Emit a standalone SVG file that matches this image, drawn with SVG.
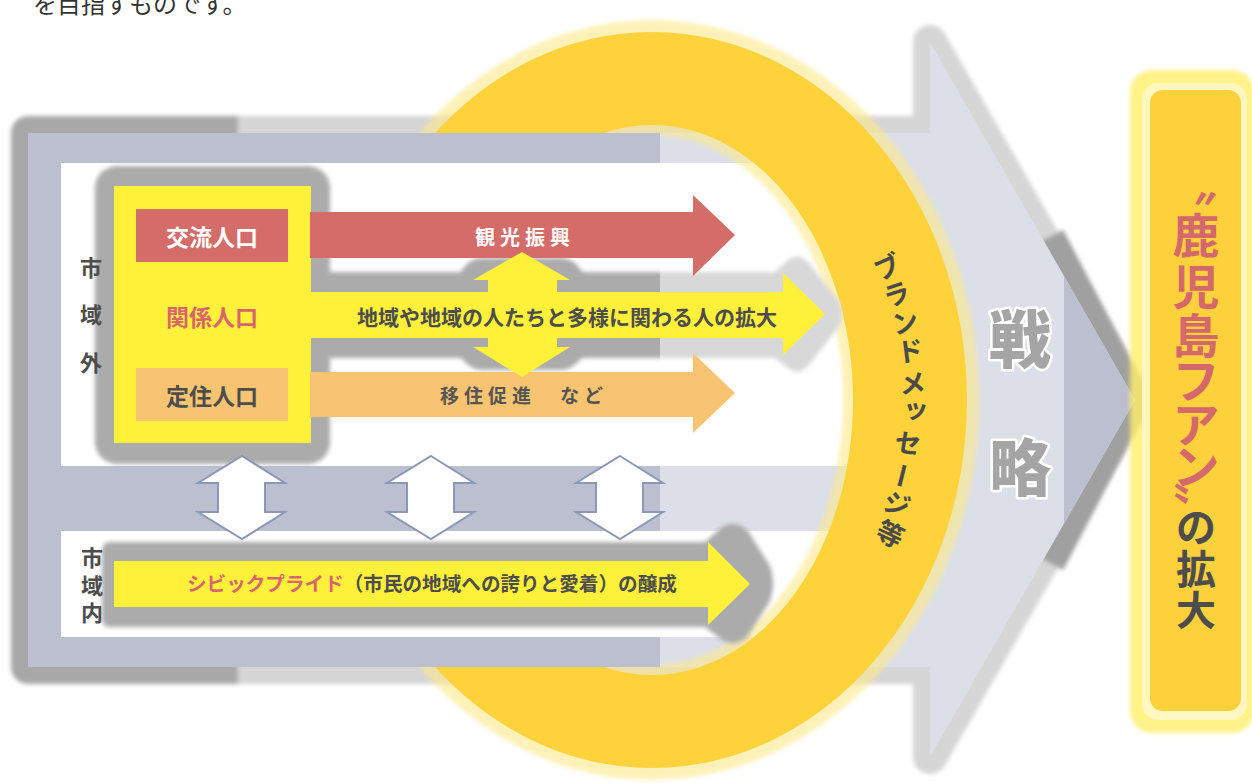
<svg xmlns="http://www.w3.org/2000/svg" width="1252" height="783" viewBox="0 0 1252 783">
<defs>
<style>
.jp{font-family:"Noto Sans CJK JP","Noto Sans CJK SC",sans-serif;}
.b{font-weight:700;}
.dk{fill:#4d4d4d;}
.c{text-anchor:middle;dominant-baseline:central;}
.v{writing-mode:vertical-rl;text-anchor:middle;}
.warrow{fill:#ffffff;stroke:#8c97b8;stroke-width:2;stroke-linejoin:miter;}
.yel{fill:#fff03a;}
</style>
<filter id="bl2" x="-10%" y="-10%" width="120%" height="120%"><feGaussianBlur stdDeviation="2"/></filter>
<clipPath id="cl"><rect x="0" y="0" width="660" height="783"/></clipPath>
<clipPath id="cr"><rect x="660" y="0" width="600" height="783"/></clipPath>
<clipPath id="ctip"><rect x="1064" y="200" width="200" height="400"/></clipPath>
<linearGradient id="sg" gradientUnits="userSpaceOnUse" x1="0" y1="0" x2="1252" y2="0">
<stop offset="0" stop-color="#a8a8a8"/>
<stop offset="0.19" stop-color="#a8a8a8"/>
<stop offset="0.19" stop-color="#d6d6d6"/>
<stop offset="1" stop-color="#d6d6d6"/>
</linearGradient>
<path id="ygl" d="M305,272 H775 L788,260 Q798,252 808,262 L838,300 Q846,314 838,328 L808,366 Q798,376 788,368 L775,358 H305 Z"/>
</defs>

<text class="jp" x="33" y="13" font-size="24" fill="#333333">を目指すものです。</text>

<g id="strategy-arrow">
<path d="M28,133 H930 V42 L1135,400 L930,757 V667 H28 Z" fill="none" stroke="url(#sg)" stroke-width="34" stroke-linejoin="round" filter="url(#bl2)"/>
<path d="M1050,237 L1135,400 L1050,563" fill="none" stroke="#a0a0a0" stroke-width="30" stroke-linejoin="round" filter="url(#bl2)"/>
<path d="M28,133 H930 V42 L1135,400 L930,757 V667 H28 Z" fill="#dcdfe8"/>
<path d="M28,133 H930 V42 L1135,400 L930,757 V667 H28 Z" fill="#bbbfcf" clip-path="url(#ctip)"/>
<rect x="61" y="163" width="799" height="303" fill="#ffffff"/>
<rect x="61" y="531" width="799" height="106" fill="#ffffff"/>
</g>

<g id="brand-ring">
<path d="M325,400 A327,380 0 1,0 979,400 A327,380 0 1,0 325,400 Z M461,400 A191,265 0 1,0 843,400 A191,265 0 1,0 461,400 Z" fill-rule="evenodd" fill="#fde98a" opacity="0.6" filter="url(#bl2)"/>
<path d="M337,400 A315,368 0 1,0 967,400 A315,368 0 1,0 337,400 Z M451,400 A201,275 0 1,0 853,400 A201,275 0 1,0 451,400 Z" fill-rule="evenodd" fill="#fdd23a"/>
</g>

<g id="body-left">
<rect x="28" y="133" width="632" height="534" fill="#bbbfcf"/>
<rect x="61" y="163" width="599" height="303" fill="#ffffff"/>
<rect x="61" y="531" width="599" height="106" fill="#ffffff"/>
</g>

<g id="outside-box">
<rect x="95" y="166" width="235" height="298" rx="22" fill="#ababab" filter="url(#bl2)"/>
<use href="#ygl" fill="#ababab" clip-path="url(#cl)" filter="url(#bl2)"/>
<use href="#ygl" fill="#d8d8d8" clip-path="url(#cr)" filter="url(#bl2)"/>
<rect x="460" y="258" width="123" height="112" rx="22" fill="#ababab" filter="url(#bl2)"/>
<rect x="114" y="186" width="197" height="257" class="yel"/>
<text class="jp b dk" font-size="22" text-anchor="middle" x="91" y="276">市</text>
<text class="jp b dk" font-size="22" text-anchor="middle" x="91" y="323">域</text>
<text class="jp b dk" font-size="22" text-anchor="middle" x="91" y="371">外</text>
</g>

<g id="node-koryu">
<rect x="136" y="209" width="152" height="53" fill="#d46c6a"/>
<text class="jp b c" x="212" y="236" font-size="23" fill="#ffffff">交流人口</text>
</g>
<g id="node-kankei">
<text class="jp b c" x="212" y="316" font-size="23" fill="#d9646d">関係人口</text>
</g>
<g id="node-teiju">
<rect x="136" y="368" width="152" height="53" fill="#f8c471"/>
<text class="jp b c dk" x="212" y="395" font-size="23">定住人口</text>
</g>

<g id="connectors">
<path d="M310,212 H693 V195 L735,235 L693,276 V258 H310 Z" fill="#d46c6a"/>
<path d="M310,372 H693 V353 L735,393 L693,433 V417 H310 Z" fill="#f8c471"/>
<path d="M311,292 H783 V273 L825,314 L783,355 V338 H311 Z" class="yel"/>
<path d="M522,252 L570,280 H557 V347 H570 L522,377 L473,347 H488 V280 H473 Z" class="yel"/>
<text class="jp b c" x="525" y="236" font-size="20" letter-spacing="5" fill="#ffffff">観光振興</text>
<text class="jp b c dk" x="567" y="316" font-size="21">地域や地域の人たちと多様に関わる人の拡大</text>
<text class="jp b c" x="524" y="394" font-size="19" letter-spacing="5" fill="#555555">移住促進　など</text>
<path class="warrow" d="M242,456 L285,483 H265 V512 H285 L242,539 L198,512 H218 V483 H198 Z"/>
<path class="warrow" d="M431,456 L474,483 H454 V512 H474 L431,539 L387,512 H407 V483 H387 Z"/>
<path class="warrow" d="M620,456 L663,483 H643 V512 H663 L620,539 L576,512 H596 V483 H576 Z"/>
</g>

<g id="inside-city">
<path d="M110,542 H705 L722,527 Q735,519 748,531 L770,566 Q776,584 770,601 L748,636 Q735,648 722,640 L705,627 H110 Q102,627 102,618 V551 Q102,542 110,542 Z" fill="#ababab" filter="url(#bl2)"/>
<path d="M114,561 H708 V542 L750,584 L708,625 V607 H114 Z" class="yel"/>
<text class="jp b" x="187" y="591" font-size="19.6"><tspan fill="#d9646d">シビックプライド</tspan><tspan fill="#4d4d4d">（市民の地域への誇りと愛着）の醸成</tspan></text>
<text class="jp b dk" font-size="22" text-anchor="middle" x="92" y="566">市</text>
<text class="jp b dk" font-size="22" text-anchor="middle" x="92" y="594">域</text>
<text class="jp b dk" font-size="22" text-anchor="middle" x="92" y="621">内</text>
</g>

<g id="ring-label" class="jp b" font-size="27" fill="#4a4a4a">
<text class="v" transform="translate(887,267) rotate(-23.8)">ブ</text>
<text class="v" transform="translate(897,294) rotate(-17.9)">ラ</text>
<text class="v" transform="translate(905,322) rotate(-12.4)">ン</text>
<text class="v" transform="translate(910,351) rotate(-7)">ド</text>
<text class="v" transform="translate(913,383) rotate(-1.7)">メ</text>
<text class="v" transform="translate(913,411) rotate(3.5)">ッ</text>
<text class="v" transform="translate(908,443) rotate(8.8)">セ</text>
<text class="v" transform="translate(902,476) rotate(14.2)">ー</text>
<text class="v" transform="translate(897,504) rotate(19.8)">ジ</text>
<text class="v" transform="translate(890,534) rotate(25.8)">等</text>
</g>

<g id="strategy-label" class="jp c" font-size="62" font-weight="900" fill="#a5a5a5" stroke="#ffffff" stroke-width="5" paint-order="stroke" stroke-linejoin="round">
<text x="1020" y="336">戦</text>
<text x="1020" y="464">略</text>
</g>

<g id="node-fan">
<rect x="1130" y="70" width="124" height="663" rx="22" fill="#ffef6a" opacity="0.8" filter="url(#bl2)"/>
<rect x="1142" y="83" width="105" height="637" rx="16" fill="#fff6c0"/>
<rect x="1150" y="90" width="91" height="621" rx="13" fill="#fdd13b"/>
<g class="jp b" fill="#d4686b" font-size="47">
<text class="c" transform="translate(1196,184) rotate(90)">〝</text>
<text class="c" x="1196" y="232">鹿</text>
<text class="c" x="1196" y="283">児</text>
<text class="c" x="1196" y="332">島</text>
<text class="c" x="1196" y="377">フ</text>
<text class="c" x="1196" y="421">ア</text>
<text class="c" x="1196" y="463">ン</text>
<text class="c" x="1196" y="478">〟</text>
</g>
<g class="jp b dk" font-size="40">
<text class="c" x="1196" y="525">の</text>
<text class="c" x="1196" y="567">拡</text>
<text class="c" x="1196" y="608">大</text>
</g>
</g>
</svg>
